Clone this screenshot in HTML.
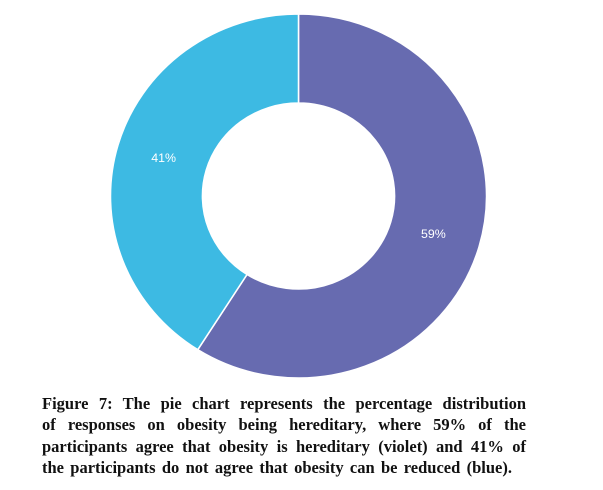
<!DOCTYPE html>
<html><head><meta charset="utf-8"><style>
body{margin:0;background:#fff;width:603px;height:490px;overflow:hidden;position:relative}
#cap{position:absolute;left:42px;top:393px;width:484px;font-family:"Liberation Serif",serif;font-weight:bold;font-size:16.5px;line-height:21.3px;color:#111}
#cap div{text-align:justify;text-align-last:justify;white-space:nowrap}
#cap div.last{width:470px}
svg{position:absolute;left:0;top:0}
</style></head><body>
<svg width="603" height="390">
<g id="g" transform="translate(298.5,196) scale(1.033,1)"></g>
</svg>
<div id="cap">
<div>Figure 7: The pie chart represents the percentage distribution</div>
<div>of responses on obesity being hereditary, where 59% of the</div>
<div>participants agree that obesity is hereditary (violet) and 41% of</div>
<div class="last">the participants do not agree that obesity can be reduced (blue).</div>
</div>
<script>
const categories=["Agree (hereditary)","Disagree"];
const values=[59,41];
const labels=["59%","41%"];
const colors=["#676bb0","#3dbae3"];
const g=document.getElementById('g');
const R=182,r=93;
const total=values.reduce((a,b)=>a+b,0);
let a0=-Math.PI/2;
const ns="http://www.w3.org/2000/svg";
values.forEach((v,i)=>{
 const a1=a0+v/total*2*Math.PI;
 const large=(a1-a0)>Math.PI?1:0;
 const p=(rr,a)=>[rr*Math.cos(a),rr*Math.sin(a)];
 const [x0,y0]=p(R,a0),[x1,y1]=p(R,a1),[x2,y2]=p(r,a1),[x3,y3]=p(r,a0);
 const path=document.createElementNS(ns,'path');
 path.setAttribute('d',`M${x0},${y0}A${R},${R} 0 ${large} 1 ${x1},${y1}L${x2},${y2}A${r},${r} 0 ${large} 0 ${x3},${y3}Z`);
 path.setAttribute('fill',colors[i]);
 path.setAttribute('stroke','#fff');
 path.setAttribute('stroke-width','1.5');
 
 
 g.appendChild(path);
 const am=(a0+a1)/2,lr=136;
 const t=document.createElementNS(ns,'text');
 t.setAttribute('x',lr*Math.cos(am));
 t.setAttribute('y',lr*Math.sin(am)+4);
 t.setAttribute('text-anchor','middle');
 t.setAttribute('fill','#fff');
 t.setAttribute('font-family','Liberation Sans, sans-serif');
 t.setAttribute('font-size','12');
 t.textContent=labels[i];
 
 
 g.appendChild(t);
 a0=a1;
});
</script>
</body></html>
